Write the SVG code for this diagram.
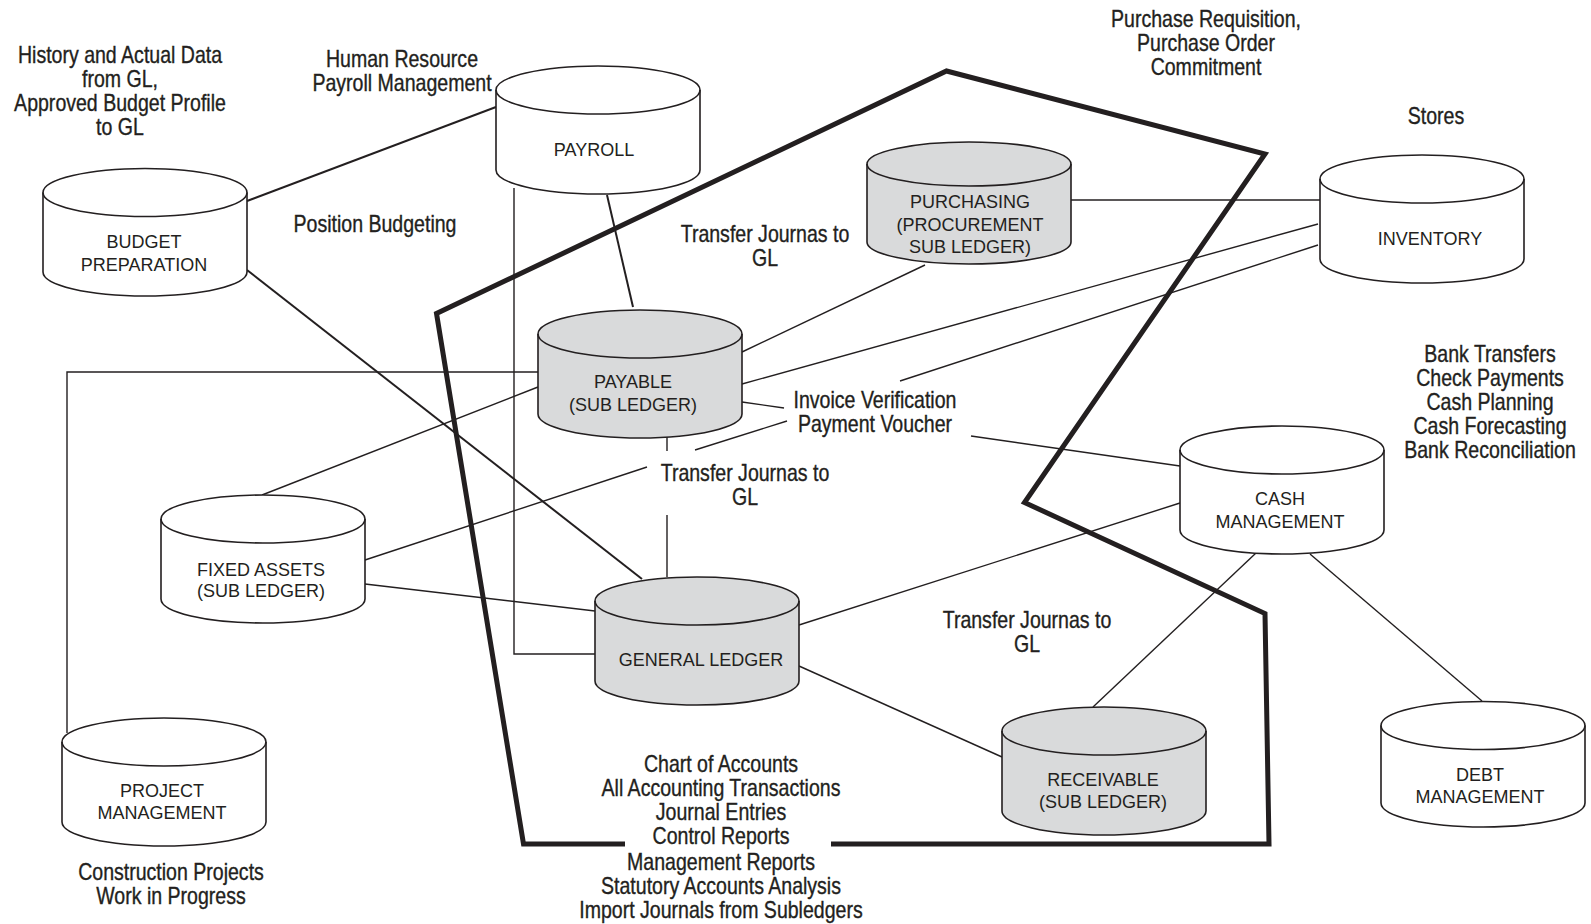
<svg xmlns="http://www.w3.org/2000/svg" width="1591" height="924" viewBox="0 0 1591 924">
<style>
.bg{fill:#ffffff}
.c{stroke:#231f20;stroke-width:1.4;fill:none}
.cb{stroke:#231f20;stroke-width:2;fill:none}
.cyl{stroke:#231f20;stroke-width:1.6}
.w{fill:#ffffff}
.g{fill:#d9dadb}
.arc{fill:none;stroke:#231f20;stroke-width:1.6}
.nt{font-family:"Liberation Sans",Arial,sans-serif;font-size:18px;fill:#231f20;text-anchor:middle}
.lbl{font-family:"Liberation Sans",Arial,sans-serif;font-size:23px;fill:#231f20;stroke:#231f20;stroke-width:0.35;text-anchor:middle}
.bound{fill:none;stroke:#231f20;stroke-width:5;stroke-linejoin:miter}
</style>
<rect class="bg" x="0" y="0" width="1591" height="924"/>

<g id="connectors">
  <line class="cb" x1="247" y1="201" x2="496" y2="107"/>
  <line class="cb" x1="247" y1="270" x2="642" y2="579"/>
  <line class="cb" x1="607" y1="195" x2="633" y2="307"/>
  <polyline class="c" points="514,188 514,654 595,654"/>
  <polyline class="c" points="67,733 67,372 538,372"/>
  <line class="c" x1="262" y1="495" x2="538" y2="387"/>
  <line class="c" x1="365" y1="560" x2="647" y2="467"/>
  <line class="c" x1="695" y1="450" x2="787" y2="421"/>
  <line class="c" x1="900" y1="381" x2="1318" y2="245"/>
  <line class="c" x1="742" y1="384" x2="1318" y2="224"/>
  <line class="c" x1="742" y1="352" x2="925" y2="265"/>
  <line class="c" x1="742" y1="402" x2="784" y2="408"/>
  <line class="c" x1="971" y1="436" x2="1180" y2="466"/>
  <line class="c" x1="667" y1="437" x2="667" y2="451"/>
  <line class="c" x1="667" y1="515" x2="667" y2="577"/>
  <line class="c" x1="365" y1="584" x2="595" y2="611"/>
  <line class="c" x1="799" y1="625" x2="1180" y2="503"/>
  <line class="c" x1="799" y1="666" x2="1002" y2="757"/>
  <line class="c" x1="1256" y1="553" x2="1093" y2="707"/>
  <line class="c" x1="1310" y1="554" x2="1482" y2="701"/>
  <line class="c" x1="1071" y1="200" x2="1320" y2="200"/>
</g>

<g id="boundary">
  <polyline class="bound" points="831,844 1269,844 1265,613.5 1024.5,502.5 1265,154 946.5,71 436.5,313.5 523.5,844 625,844"/>
</g>

<g id="budget">
  <path class="cyl w" d="M43,192.5 A102,24 0 0 1 247,192.5 L247,272 A102,24 0 0 1 43,272 Z"/>
  <path class="arc" d="M43,192.5 A102,24 0 0 0 247,192.5"/>
  <text class="nt"><tspan x="144" y="248">BUDGET</tspan><tspan x="144" y="271">PREPARATION</tspan></text>
</g>

<g id="payroll">
  <path class="cyl w" d="M496,90 A102,24 0 0 1 700,90 L700,170 A102,24 0 0 1 496,170 Z"/>
  <path class="arc" d="M496,90 A102,24 0 0 0 700,90"/>
  <text class="nt" x="594" y="156">PAYROLL</text>
</g>

<g id="purchasing">
  <path class="cyl g" d="M867,164 A102,22 0 0 1 1071,164 L1071,242 A102,22 0 0 1 867,242 Z"/>
  <path class="arc" d="M867,164 A102,22 0 0 0 1071,164"/>
  <text class="nt"><tspan x="970" y="207.5">PURCHASING</tspan><tspan x="970" y="230.5">(PROCUREMENT</tspan><tspan x="970" y="253">SUB LEDGER)</tspan></text>
</g>

<g id="inventory">
  <path class="cyl w" d="M1320,179 A102,24 0 0 1 1524,179 L1524,259 A102,24 0 0 1 1320,259 Z"/>
  <path class="arc" d="M1320,179 A102,24 0 0 0 1524,179"/>
  <text class="nt" x="1430" y="245">INVENTORY</text>
</g>

<g id="payable">
  <path class="cyl g" d="M538,334 A102,24 0 0 1 742,334 L742,414 A102,24 0 0 1 538,414 Z"/>
  <path class="arc" d="M538,334 A102,24 0 0 0 742,334"/>
  <text class="nt"><tspan x="633" y="388">PAYABLE</tspan><tspan x="633" y="410.5">(SUB LEDGER)</tspan></text>
</g>

<g id="fixed-assets">
  <path class="cyl w" d="M161,519 A102,24 0 0 1 365,519 L365,599 A102,24 0 0 1 161,599 Z"/>
  <path class="arc" d="M161,519 A102,24 0 0 0 365,519"/>
  <text class="nt"><tspan x="261" y="575.5">FIXED ASSETS</tspan><tspan x="261" y="597">(SUB LEDGER)</tspan></text>
</g>

<g id="general-ledger">
  <path class="cyl g" d="M595,601 A102,24 0 0 1 799,601 L799,681 A102,24 0 0 1 595,681 Z"/>
  <path class="arc" d="M595,601 A102,24 0 0 0 799,601"/>
  <text class="nt" x="701" y="666">GENERAL LEDGER</text>
</g>

<g id="cash">
  <path class="cyl w" d="M1180,450 A102,24 0 0 1 1384,450 L1384,530 A102,24 0 0 1 1180,530 Z"/>
  <path class="arc" d="M1180,450 A102,24 0 0 0 1384,450"/>
  <text class="nt"><tspan x="1280" y="504.5">CASH</tspan><tspan x="1280" y="528">MANAGEMENT</tspan></text>
</g>

<g id="receivable">
  <path class="cyl g" d="M1002,731 A102,24 0 0 1 1206,731 L1206,811 A102,24 0 0 1 1002,811 Z"/>
  <path class="arc" d="M1002,731 A102,24 0 0 0 1206,731"/>
  <text class="nt"><tspan x="1103" y="785.5">RECEIVABLE</tspan><tspan x="1103" y="808">(SUB LEDGER)</tspan></text>
</g>

<g id="project">
  <path class="cyl w" d="M62,742 A102,24 0 0 1 266,742 L266,822 A102,24 0 0 1 62,822 Z"/>
  <path class="arc" d="M62,742 A102,24 0 0 0 266,742"/>
  <text class="nt"><tspan x="162" y="797">PROJECT</tspan><tspan x="162" y="819">MANAGEMENT</tspan></text>
</g>

<g id="debt">
  <path class="cyl w" d="M1381,725.5 A102,24 0 0 1 1585,725.5 L1585,803 A102,24 0 0 1 1381,803 Z"/>
  <path class="arc" d="M1381,725.5 A102,24 0 0 0 1585,725.5"/>
  <text class="nt"><tspan x="1480" y="781">DEBT</tspan><tspan x="1480" y="803">MANAGEMENT</tspan></text>
</g>

<g id="labels">
  <text class="lbl" transform="matrix(0.85 0 0 1 120 0)"><tspan x="0" y="63">History and Actual Data</tspan><tspan x="0" y="87">from GL,</tspan><tspan x="0" y="111">Approved Budget Profile</tspan><tspan x="0" y="135">to GL</tspan></text>
  <text class="lbl" transform="matrix(0.85 0 0 1 402 0)"><tspan x="0" y="67">Human Resource</tspan><tspan x="0" y="91">Payroll Management</tspan></text>
  <text class="lbl" transform="matrix(0.85 0 0 1 375 0)"><tspan x="0" y="232">Position Budgeting</tspan></text>
  <text class="lbl" transform="matrix(0.85 0 0 1 765 0)"><tspan x="0" y="242">Transfer Journas to</tspan><tspan x="0" y="266">GL</tspan></text>
  <text class="lbl" transform="matrix(0.85 0 0 1 1206 0)"><tspan x="0" y="27">Purchase Requisition,</tspan><tspan x="0" y="51">Purchase Order</tspan><tspan x="0" y="75">Commitment</tspan></text>
  <text class="lbl" transform="matrix(0.85 0 0 1 1436 0)"><tspan x="0" y="124">Stores</tspan></text>
  <text class="lbl" transform="matrix(0.85 0 0 1 875 0)"><tspan x="0" y="408">Invoice Verification</tspan><tspan x="0" y="432">Payment Voucher</tspan></text>
  <text class="lbl" transform="matrix(0.85 0 0 1 745 0)"><tspan x="0" y="481">Transfer Journas to</tspan><tspan x="0" y="505">GL</tspan></text>
  <text class="lbl" transform="matrix(0.85 0 0 1 1490 0)"><tspan x="0" y="362">Bank Transfers</tspan><tspan x="0" y="386">Check Payments</tspan><tspan x="0" y="410">Cash Planning</tspan><tspan x="0" y="434">Cash Forecasting</tspan><tspan x="0" y="458">Bank Reconciliation</tspan></text>
  <text class="lbl" transform="matrix(0.85 0 0 1 1027 0)"><tspan x="0" y="628">Transfer Journas to</tspan><tspan x="0" y="652">GL</tspan></text>
  <text class="lbl" transform="matrix(0.85 0 0 1 171 0)"><tspan x="0" y="880">Construction Projects</tspan><tspan x="0" y="904">Work in Progress</tspan></text>
  <text class="lbl" transform="matrix(0.85 0 0 1 721 0)"><tspan x="0" y="772">Chart of Accounts</tspan><tspan x="0" y="796">All Accounting Transactions</tspan><tspan x="0" y="820">Journal Entries</tspan><tspan x="0" y="844">Control Reports</tspan><tspan x="0" y="870">Management Reports</tspan><tspan x="0" y="894">Statutory Accounts Analysis</tspan><tspan x="0" y="918">Import Journals from Subledgers</tspan></text>
</g>
</svg>
